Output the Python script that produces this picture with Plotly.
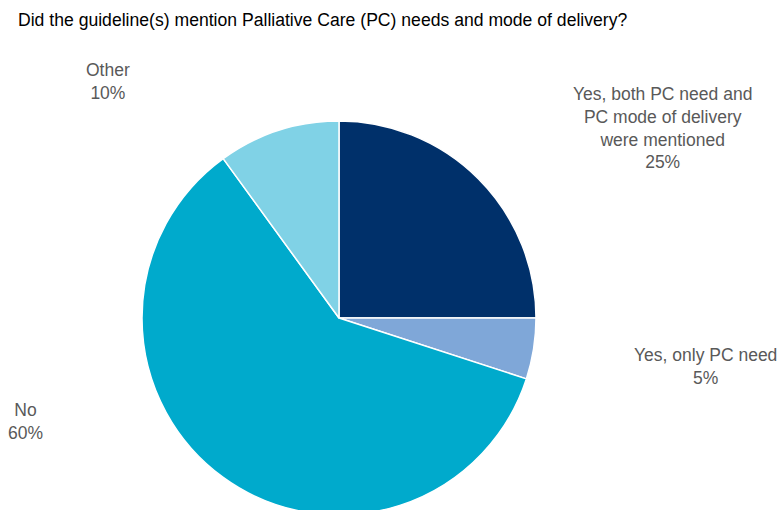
import plotly.graph_objects as go

# Survey answers, clockwise from 12 o'clock
categories = [
    "Yes, both PC need and<br>PC mode of delivery<br>were mentioned",
    "Yes, only PC need",
    "No",
    "Other",
]
shares = [25, 5, 60, 10]
colors = ["#00306A", "#7FA7D8", "#00AACC", "#80D2E6"]

# Label anchor points (pixel x, pixel y) for the outside labels
label_px = [(662, 128), (705, 366), (25, 421), (108, 81)]

W, H = 781, 540
FONT = "Liberation Sans, Arial, sans-serif"

# Pie centred at (339, 318) px with radius 197 px
cx, cy, r = 339, 318, 197

fig = go.Figure(
    go.Pie(
        labels=categories,
        values=shares,
        sort=False,
        direction="clockwise",
        rotation=0,
        marker=dict(colors=colors, line=dict(color="white", width=1.5)),
        textinfo="none",
        hoverinfo="label+percent",
        domain=dict(
            x=[(cx - r) / W, (cx + r) / W],
            y=[(H - cy - r) / H, (H - cy + r) / H],
        ),
        showlegend=False,
    )
)

for name, val, (px, py) in zip(categories, shares, label_px):
    fig.add_annotation(
        text=f"{name}<br>{val}%",
        x=px / W,
        y=1 - py / H,
        xref="paper",
        yref="paper",
        xanchor="center",
        yanchor="middle",
        showarrow=False,
        align="center",
        font=dict(family=FONT, size=17.5, color="#595959"),
    )

fig.add_annotation(
    text="Did the guideline(s) mention Palliative Care (PC) needs and mode of delivery?",
    x=16 / W,
    y=1 - 20 / H,
    xref="paper",
    yref="paper",
    xanchor="left",
    yanchor="middle",
    showarrow=False,
    font=dict(family=FONT, size=17.6, color="#000000"),
)

fig.update_layout(
    width=W,
    height=H,
    margin=dict(l=0, r=0, t=0, b=0),
    paper_bgcolor="white",
    plot_bgcolor="white",
)

fig.write_html(
    "out.html",
    post_script=(
        "document.documentElement.style.overflow='hidden';"
        "document.body.style.overflow='hidden';"
        "document.body.style.margin='0';"
    ),
)
